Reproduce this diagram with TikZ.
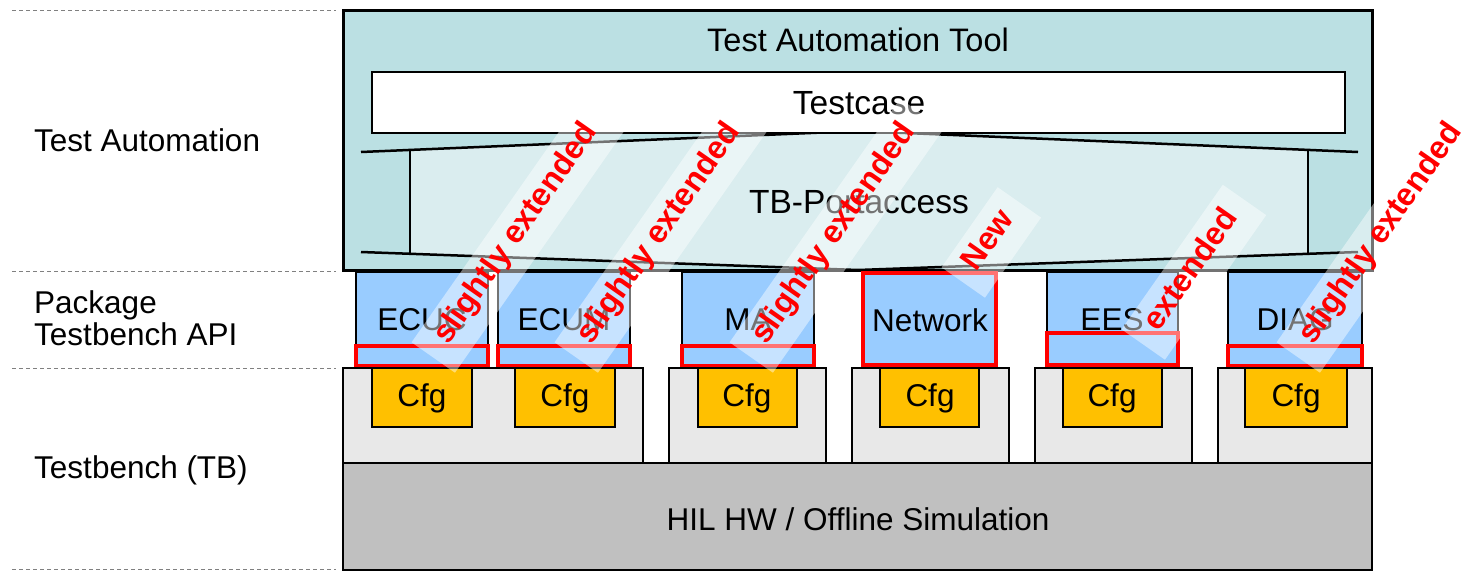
\documentclass[tikz,border=0pt]{standalone}
\usepackage{fontspec}
\setmainfont{Liberation Sans}

\definecolor{toolfill}{RGB}{187,224,227}
\definecolor{portfill}{RGB}{218,237,239}
\definecolor{apifill}{RGB}{153,204,255}
\definecolor{tbfill}{RGB}{232,232,232}
\definecolor{cfgfill}{RGB}{255,192,0}
\definecolor{hilfill}{RGB}{192,192,192}

\begin{document}
\begin{tikzpicture}[x=1pt, y=-1pt, font=\fontsize{31.5}{32}\selectfont,
    every node/.style={inner sep=0pt},
    kasten/.style={draw=black, line width=2.5pt},
    trenner/.style={draw=gray, line width=1pt, dash pattern=on 4pt off 3pt},
    markierung/.style={draw=red, line width=4pt},
    gross/.style={font=\fontsize{33.5}{34}\selectfont},
    hinweis/.style={font=\fontsize{32}{32}\selectfont\bfseries, text=red,
        fill=white, fill opacity=0.45, text opacity=1, rotate=55,
        anchor=south west, inner xsep=18pt, inner ysep=0pt,
        text height=32pt, text depth=21pt}]

        \useasboundingbox (0,0) rectangle (1462,571);

        % Trennlinien
        \begin{scope}
            \draw[trenner] (12,10) -- (336,10);
            \draw[trenner] (12,271) -- (336,271);
            \draw[trenner] (12,368) -- (336,368);
            \draw[trenner] (12,569) -- (336,569);

            \node[anchor=west] (ebeneTA) at (34,140) {Test Automation};
            \node[anchor=west, align=left] (ebeneAPI) at (34,318) {Package\\Testbench API};
            \node[anchor=west] (ebeneTB) at (34,470) {Testbench (TB)};
        \end{scope}

        % Test Automation Tool
        \begin{scope}
            \draw[kasten, line width=3pt, fill=toolfill] (343,10) rectangle (1372,270);
            \node[font=\fontsize{32.5}{33}\selectfont] (tool) at (858,40) {Test Automation Tool};

            % Portaccess
            \fill[portfill] (410,150) -- (858,131) -- (1308,150) -- (1308,254) -- (858,270) -- (410,254) -- cycle;
            \draw[line width=2.5pt] (361,152) -- (858,131) -- (1358,152);
            \draw[line width=2.5pt] (361,252) -- (858,270) -- (1358,252);
            \draw[line width=2.5pt] (410,150) -- (410,254);
            \draw[line width=2.5pt] (1308,150) -- (1308,254);
            \node[gross] (portaccess) at (859,202) {TB-Portaccess};

            % Testcase
            \draw[kasten, fill=white] (372,72) rectangle (1345,133);
            \node[gross] (testcase) at (859,103) {Testcase};
        \end{scope}

        % Testbench API
        \begin{scope}
            % ECUC
            \draw[kasten, fill=apifill] (356,272) rectangle (488,366);
            \draw[markierung] (356,346) rectangle (488,366);
            \node (ecuc) at (422,320) {ECUC};

            % ECUM
            \draw[kasten, fill=apifill] (498,272) rectangle (630,366);
            \draw[markierung] (498,346) rectangle (630,366);
            \node (ecum) at (564,320) {ECUM};

            % MA
            \draw[kasten, fill=apifill] (682,272) rectangle (814,366);
            \draw[markierung] (682,346) rectangle (814,366);
            \node (ma) at (748,320) {MA};

            % Network
            \draw[markierung, fill=apifill] (863,273) rectangle (996,365);
            \node (network) at (930,320) {Network};

            % EES
            \draw[kasten, fill=apifill] (1047,272) rectangle (1178,365);
            \draw[markierung] (1047,333) rectangle (1178,365);
            \node (ees) at (1112,320) {EES};

            % DIAG
            \draw[kasten, fill=apifill] (1228,272) rectangle (1362,366);
            \draw[markierung] (1228,346) rectangle (1362,366);
            \node (diag) at (1295,320) {DIAG};
        \end{scope}

        % Testbench
        \begin{scope}
            \draw[kasten, fill=tbfill] (343,368) rectangle (643,463);
            \draw[kasten, fill=tbfill] (669,368) rectangle (826,463);
            \draw[kasten, fill=tbfill] (852,368) rectangle (1009,463);
            \draw[kasten, fill=tbfill] (1035,368) rectangle (1192,463);
            \draw[kasten, fill=tbfill] (1218,368) rectangle (1372,463);

            % Cfg
            \draw[kasten, fill=cfgfill] (372,368) rectangle (472,427);
            \node (cfgECUC) at (422,398) {Cfg};
            \draw[kasten, fill=cfgfill] (515,368) rectangle (615,427);
            \node (cfgECUM) at (565,398) {Cfg};
            \draw[kasten, fill=cfgfill] (698,368) rectangle (797,427);
            \node (cfgMA) at (747,398) {Cfg};
            \draw[kasten, fill=cfgfill] (880,368) rectangle (979,427);
            \node (cfgNetwork) at (930,398) {Cfg};
            \draw[kasten, fill=cfgfill] (1063,368) rectangle (1162,427);
            \node (cfgEES) at (1112,398) {Cfg};
            \draw[kasten, fill=cfgfill] (1245,368) rectangle (1347,427);
            \node (cfgDIAG) at (1296,398) {Cfg};

            % HIL
            \draw[kasten, fill=hilfill] (343,463) rectangle (1372,570);
            \node (hil) at (858,519) {HIL HW / Offline Simulation};
        \end{scope}

        % Hinweise
        \begin{scope}
            \node[hinweis] (hinweisECUC) at (455,373) {slightly extended};
            \node[hinweis] (hinweisECUM) at (598,373) {slightly extended};
            \node[hinweis] (hinweisMA) at (773,373) {slightly extended};
            \node[hinweis, inner xsep=16pt] (hinweisNetwork) at (985,298) {New};
            \node[hinweis] (hinweisEES) at (1165,360) {extended};
            \node[hinweis] (hinweisDIAG) at (1320,373) {slightly extended};
        \end{scope}
    \end{tikzpicture}
\end{document}
